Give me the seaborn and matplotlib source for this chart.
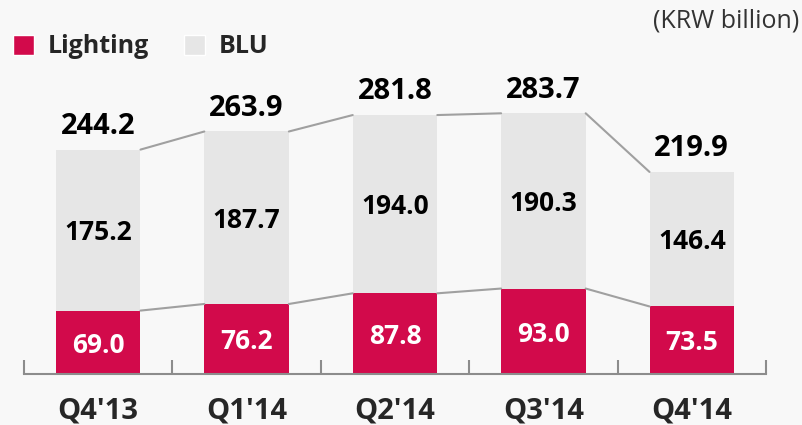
import numpy as np
import pandas as pd
import matplotlib
matplotlib.use('Agg')
import matplotlib.pyplot as plt
import seaborn as sns
from matplotlib.patches import Patch
from matplotlib.ticker import FixedLocator

quarters = ["Q4'13", "Q1'14", "Q2'14", "Q3'14", "Q4'14"]
lighting = [69.0, 76.2, 87.8, 93.0, 73.5]
blu = [175.2, 187.7, 194.0, 190.3, 146.4]
totals = [244.2, 263.9, 281.8, 283.7, 219.9]

red = '#d20a4b'
grey = '#e6e6e6'
bg = '#f8f8f8'

sns.set_style('white')
plt.rcParams['font.family'] = ['Open Sans', 'DejaVu Sans']

df = pd.DataFrame({'quarter': quarters, 'lighting': lighting, 'blu': blu, 'total': totals})

fig = plt.figure(figsize=(8.02, 4.25), dpi=100, facecolor=bg)
ax = fig.add_axes([24 / 802, 51 / 425, 742 / 802, 374 / 425])
ax.set_facecolor(bg)

bw = 0.57
sns.barplot(data=df, x='quarter', y='total', color=grey, width=bw, saturation=1,
            linewidth=0, ax=ax)
sns.barplot(data=df, x='quarter', y='lighting', color=red, width=bw, saturation=1,
            linewidth=0, ax=ax)

# connector lines between bar tops
for i in range(len(quarters) - 1):
    for col in ['total', 'lighting']:
        ax.plot([i + bw / 2, i + 1 - bw / 2], [df[col][i], df[col][i + 1]],
                color='#a0a0a0', lw=1.5, zorder=1)

for i in range(len(quarters)):
    ax.text(i, totals[i] + 17, f'{totals[i]:.1f}', ha='center', va='baseline',
            fontsize=21, fontweight='bold', color='black')
    ax.text(i, lighting[i] + blu[i] / 2 - 3, f'{blu[i]:.1f}', ha='center', va='center',
            fontsize=19, fontweight='bold', color='black')
    ax.text(i, lighting[i] / 2 - 3, f'{lighting[i]:.1f}', ha='center', va='center',
            fontsize=19, fontweight='bold', color='white')

ax.set_xlim(-0.5, len(quarters) - 0.5)
ax.set_ylim(0, 407)
ax.set_xlabel('')
ax.set_ylabel('')
ax.set_yticks([])
for s in ['top', 'right', 'left']:
    ax.spines[s].set_visible(False)
ax.spines['bottom'].set_color('#8c8c8c')
ax.spines['bottom'].set_linewidth(1.5)
ax.xaxis.set_minor_locator(FixedLocator(np.arange(-0.5, len(quarters), 1.0)))
ax.tick_params(axis='x', which='major', length=0, pad=16, labelsize=21)
ax.tick_params(axis='x', which='minor', bottom=True, direction='in', length=10,
               width=1.5, color='#8c8c8c')
for lab in ax.get_xticklabels():
    lab.set_fontweight('bold')

handles = [Patch(facecolor=red, label='Lighting'), Patch(facecolor=grey, label='BLU')]
fig.legend(handles=handles, loc='upper left', bbox_to_anchor=(-0.012, 0.972), ncol=2,
           frameon=False, handlelength=0.85, handleheight=0.85, handletextpad=0.55,
           columnspacing=1.4, prop={'weight': 'bold', 'size': 18})

fig.text(799 / 802, 1 - 21 / 425, '(KRW billion)', ha='right', va='center',
         fontsize=18, color='#333333')

fig.savefig('out.png', dpi=100, facecolor=bg)
